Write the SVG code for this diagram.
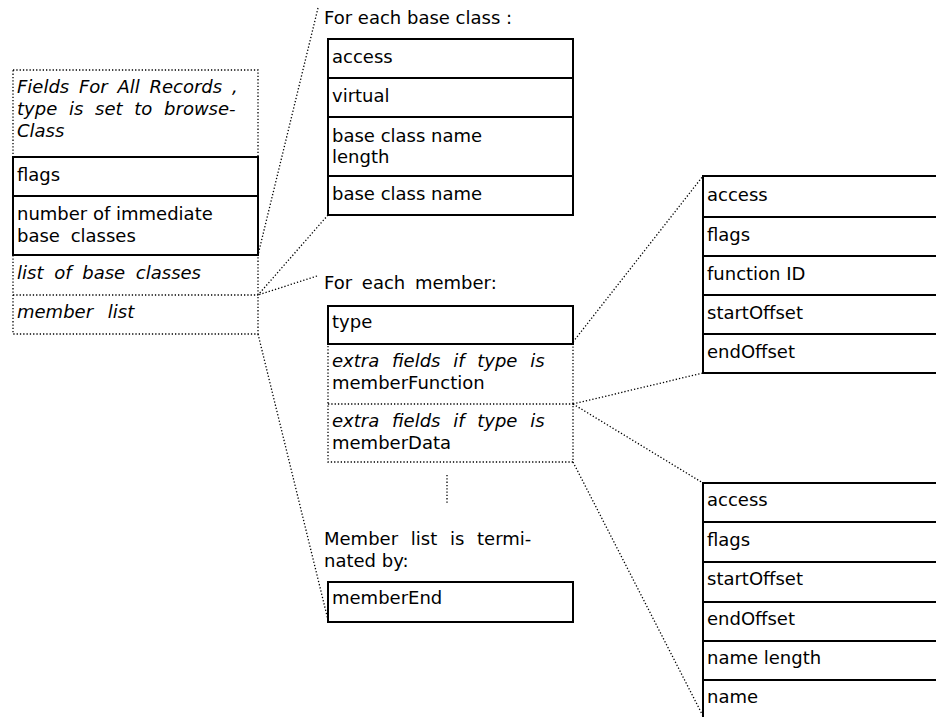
<svg xmlns="http://www.w3.org/2000/svg" width="936" height="717" viewBox="0 0 936 717">
<style>
text{font-family:"DejaVu Sans","Liberation Sans",sans-serif;font-size:18px;fill:#000}
.it{font-style:italic}
.solid{fill:none;stroke:#000;stroke-width:2}
.dot{fill:none;stroke:#000;stroke-width:1.3;stroke-dasharray:1.3 2}
</style>
<rect width="936" height="717" fill="#fff"/>
<g id="connectors">
<line class="dot" x1="318" y1="8" x2="258" y2="255"/>
<line class="dot" x1="328" y1="215" x2="258" y2="295"/>
<line class="dot" x1="317" y1="276" x2="258" y2="295"/>
<line class="dot" x1="258" y1="334" x2="328" y2="620"/>
<line class="dot" x1="573" y1="342" x2="703" y2="176"/>
<line class="dot" x1="573" y1="404" x2="703" y2="373"/>
<line class="dot" x1="573" y1="404" x2="703" y2="483"/>
<line class="dot" x1="573" y1="462" x2="703" y2="716"/>
<line class="dot" x1="447" y1="475" x2="447" y2="503"/>
</g>
<g id="record">
<rect class="dot" x="13" y="70" width="245" height="264"/>
<line class="dot" x1="13" y1="295" x2="258" y2="295"/>
<rect class="solid" x="13" y="157" width="245" height="98"/>
<line class="solid" x1="13" y1="196" x2="258" y2="196"/>
<text class="it" x="17" y="93" word-spacing="4">Fields For All Records ,</text>
<text class="it" x="17" y="115" word-spacing="6">type is set to browse-</text>
<text class="it" x="17" y="137">Class</text>
<text x="17" y="181">flags</text>
<text x="17" y="220">number of immediate</text>
<text x="17" y="242" word-spacing="5">base classes</text>
<text class="it" x="17" y="279" word-spacing="5">list of base classes</text>
<text class="it" x="17" y="318" word-spacing="9">member list</text>
</g>
<g id="baseclass">
<text x="324" y="24">For each base class :</text>
<rect class="solid" x="328" y="39" width="245" height="176"/>
<line class="solid" x1="328" y1="78" x2="573" y2="78"/>
<line class="solid" x1="328" y1="117" x2="573" y2="117"/>
<line class="solid" x1="328" y1="176" x2="573" y2="176"/>
<text x="332" y="63">access</text>
<text x="332" y="102">virtual</text>
<text x="332" y="142">base class name</text>
<text x="332" y="163">length</text>
<text x="332" y="200">base class name</text>
</g>
<g id="member">
<text x="324" y="289" word-spacing="4">For each member:</text>
<rect class="dot" x="328" y="344" width="245" height="118"/>
<line class="dot" x1="328" y1="404" x2="573" y2="404"/>
<rect class="solid" x="328" y="306" width="245" height="38"/>
<text x="332" y="328">type</text>
<text class="it" x="332" y="367" word-spacing="7">extra fields if type is</text>
<text x="332" y="389">memberFunction</text>
<text class="it" x="332" y="427" word-spacing="7">extra fields if type is</text>
<text x="332" y="449">memberData</text>
</g>
<g id="memberend">
<text x="324" y="545" word-spacing="7">Member list is termi-</text>
<text x="324" y="567">nated by:</text>
<rect class="solid" x="328" y="582" width="245" height="40"/>
<text x="332" y="604">memberEnd</text>
</g>
<g id="function">
<rect class="solid" x="703" y="176" width="240" height="197"/>
<line class="solid" x1="703" y1="217" x2="943" y2="217"/>
<line class="solid" x1="703" y1="256" x2="943" y2="256"/>
<line class="solid" x1="703" y1="295" x2="943" y2="295"/>
<line class="solid" x1="703" y1="334" x2="943" y2="334"/>
<text x="707" y="201">access</text>
<text x="707" y="241">flags</text>
<text x="707" y="280">function ID</text>
<text x="707" y="319">startOffset</text>
<text x="707" y="358">endOffset</text>
</g>
<g id="data">
<rect class="solid" x="703" y="483" width="240" height="240"/>
<line class="solid" x1="703" y1="522" x2="943" y2="522"/>
<line class="solid" x1="703" y1="562" x2="943" y2="562"/>
<line class="solid" x1="703" y1="602" x2="943" y2="602"/>
<line class="solid" x1="703" y1="641" x2="943" y2="641"/>
<line class="solid" x1="703" y1="680" x2="943" y2="680"/>
<text x="707" y="506">access</text>
<text x="707" y="546">flags</text>
<text x="707" y="585">startOffset</text>
<text x="707" y="625">endOffset</text>
<text x="707" y="664">name length</text>
<text x="707" y="703">name</text>
</g>
</svg>
